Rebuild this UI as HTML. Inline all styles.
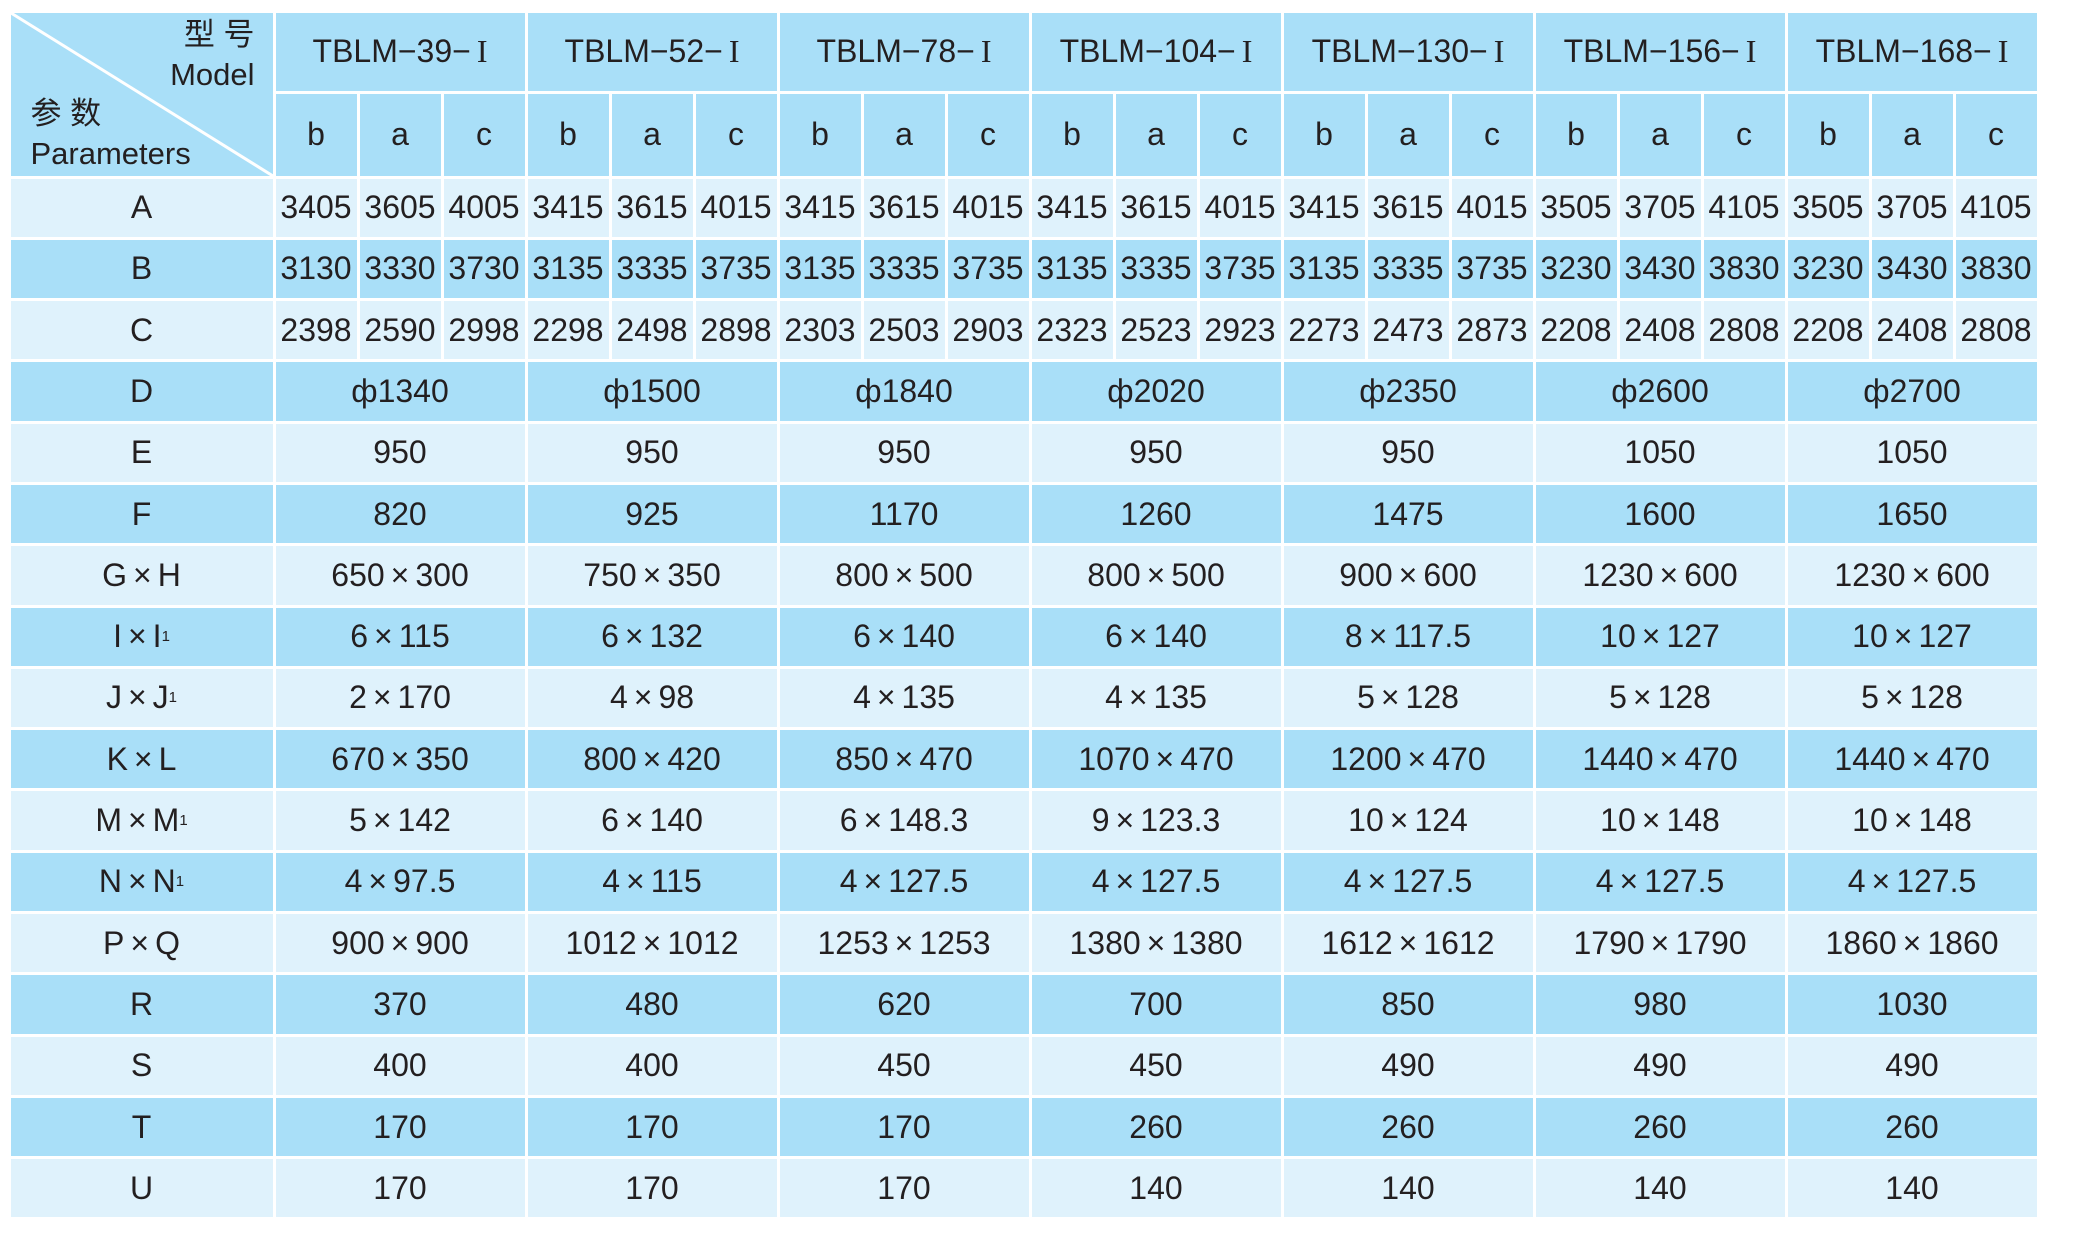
<!DOCTYPE html>
<html><head><meta charset="utf-8">
<style>
html,body{margin:0;padding:0;background:#fff;}
#t{position:relative;width:2076px;height:1248px;overflow:hidden;font-family:"Liberation Sans","Noto Sans CJK SC",sans-serif;color:#231f20;}
.c{position:absolute;display:flex;align-items:center;justify-content:center;font-size:32px;box-sizing:border-box;white-space:nowrap;}
.d{background:#a9dff8;}
.l{background:#dff2fc;}
.rn{font-family:"Liberation Serif",serif;margin-left:6px;}
sub{font-size:15px;vertical-align:-4px;}
.x{margin:0 6px;}
</style></head>
<body>
<div id="t"></div>
<script>
const models=["TBLM−39−","TBLM−52−","TBLM−78−","TBLM−104−","TBLM−130−","TBLM−156−","TBLM−168−"];
const subs=["b","a","c"];
const abcRows=[
["A",["3405","3605","4005","3415","3615","4015","3415","3615","4015","3415","3615","4015","3415","3615","4015","3505","3705","4105","3505","3705","4105"]],
["B",["3130","3330","3730","3135","3335","3735","3135","3335","3735","3135","3335","3735","3135","3335","3735","3230","3430","3830","3230","3430","3830"]],
["C",["2398","2590","2998","2298","2498","2898","2303","2503","2903","2323","2523","2923","2273","2473","2873","2208","2408","2808","2208","2408","2808"]]];
const groupRows=[
["D",["ф1340","ф1500","ф1840","ф2020","ф2350","ф2600","ф2700"]],
["E",["950","950","950","950","950","1050","1050"]],
["F",["820","925","1170","1260","1475","1600","1650"]],
["G×H",["650×300","750×350","800×500","800×500","900×600","1230×600","1230×600"]],
["I×I<sub>1</sub>",["6×115","6×132","6×140","6×140","8×117.5","10×127","10×127"]],
["J×J<sub>1</sub>",["2×170","4×98","4×135","4×135","5×128","5×128","5×128"]],
["K×L",["670×350","800×420","850×470","1070×470","1200×470","1440×470","1440×470"]],
["M×M<sub>1</sub>",["5×142","6×140","6×148.3","9×123.3","10×124","10×148","10×148"]],
["N×N<sub>1</sub>",["4×97.5","4×115","4×127.5","4×127.5","4×127.5","4×127.5","4×127.5"]],
["P×Q",["900×900","1012×1012","1253×1253","1380×1380","1612×1612","1790×1790","1860×1860"]],
["R",["370","480","620","700","850","980","1030"]],
["S",["400","400","450","450","490","490","490"]],
["T",["170","170","170","260","260","260","260"]],
["U",["170","170","170","140","140","140","140"]]];
const T=document.getElementById('t');
const X0=9,X1=274,GW=252,Y0=11,H1=92,H2=177,RH=(1219-177)/17,G=1.5;
function fmt(s){return s.replace(/×/g,'<span class="x">×</span>');}
function cell(x,y,w,h,cls,html,name){
  const e=document.createElement('div');
  e.className='c '+cls;
  e.style.left=(x+G)+'px';e.style.top=(y+G)+'px';
  e.style.width=(w-2*G)+'px';e.style.height=(h-2*G)+'px';
  e.innerHTML=html;
  
  
  T.appendChild(e);return e;
}
const corner=cell(X0,Y0,X1-X0,H2-Y0,'d','','header-corner');
corner.style.display='block';
corner.innerHTML='<svg width="'+(X1-X0-3)+'" height="'+(H2-Y0-3)+'" style="position:absolute;left:0;top:0"><line x1="0" y1="0" x2="'+(X1-X0-3)+'" y2="'+(H2-Y0-3)+'" stroke="#fff" stroke-width="3"/></svg>'+
'<div style="position:absolute;right:18px;top:2px;font-size:31px;line-height:40px;text-align:right">型 号<br>Model</div>'+
'<div style="position:absolute;left:20px;top:81px;font-size:31px;line-height:40px">参 数<br>Parameters</div>';
models.forEach((m,i)=>{
  cell(X1+i*GW,Y0,GW,H1-Y0,'d',m+'<span class="rn">I</span>','model-header');
  subs.forEach((s,j)=>cell(X1+i*GW+j*GW/3,H1,GW/3,H2-H1,'d',s,'variant-header'));
});
let r=0;
abcRows.forEach(row=>{
  const y=H2+r*RH,cls=r%2?'d':'l';
  cell(X0,y,X1-X0,RH,cls,row[0],'param-label');
  row[1].forEach((v,k)=>cell(X1+k*GW/3,y,GW/3,RH,cls,v,'value-cell'));
  r++;
});
groupRows.forEach(row=>{
  const y=H2+r*RH,cls=r%2?'d':'l';
  cell(X0,y,X1-X0,RH,cls,fmt(row[0]),'param-label');
  row[1].forEach((v,k)=>cell(X1+k*GW,y,GW,RH,cls,fmt(v),'value-cell'));
  r++;
});
</script>
</body></html>
